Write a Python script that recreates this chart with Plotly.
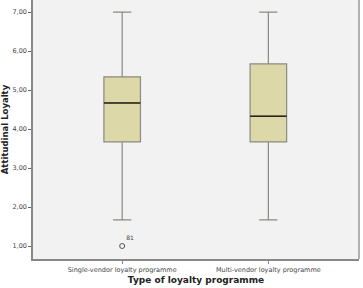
import plotly.graph_objects as go

categories = ["Single-vendor loyalty programme", "Multi-vendor loyalty programme"]
q1 = [3.67, 3.67]
median = [4.67, 4.33]
q3 = [5.34, 5.67]
lower = [1.67, 1.67]
upper = [7.00, 7.00]
outlier_x = [0]
outlier_y = [1.00]
outlier_label = ["81"]
ytick_vals = [1, 2, 3, 4, 5, 6, 7]
ytick_text = ["1,00", "2,00", "3,00", "4,00", "5,00", "6,00", "7,00"]

pos = list(range(len(categories)))
bw = 0.25

fig = go.Figure()
fig.add_trace(go.Box(
    x=pos, q1=q1, median=median, q3=q3, lowerfence=lower, upperfence=upper,
    width=bw, whiskerwidth=0.5, fillcolor="#dcd8a7",
    line=dict(color="#8a8a80", width=1.2), boxpoints=False, showlegend=False,
    hoverinfo="skip",
))
for i, m in zip(pos, median):
    fig.add_trace(go.Scatter(x=[i - bw / 2, i + bw / 2], y=[m, m], mode="lines",
                             line=dict(color="#2a2418", width=1.6), showlegend=False,
                             hoverinfo="skip"))
fig.add_trace(go.Scatter(x=outlier_x, y=outlier_y, mode="markers+text",
                         marker=dict(symbol="circle-open", size=5, color="#555555", line=dict(width=1)),
                         text=outlier_label, textposition="top right",
                         textfont=dict(size=6, color="#444444", family="DejaVu Sans"),
                         showlegend=False, hoverinfo="skip"))

fig.update_layout(
    width=363, height=288,
    margin=dict(l=33, r=4, t=0, b=29),
    paper_bgcolor="white", plot_bgcolor="#f2f2f2",
    font=dict(family="DejaVu Sans", color="#333333"),
)
fig.update_xaxes(
    range=[-0.61, 1.62], tickvals=pos, ticktext=categories,
    tickfont=dict(size=6.5, color="#444444"), ticks="outside", ticklen=3,
    tickcolor="#888888", showgrid=False, zeroline=False,
    showline=True, linecolor="#888888", linewidth=1.5, mirror=False,
    title=dict(text="<b>Type of loyalty programme</b>", font=dict(size=9, color="#222222"), standoff=4),
    automargin=False,
)
fig.update_yaxes(
    range=[0.667, 7.31], tickvals=ytick_vals, ticktext=ytick_text,
    tickfont=dict(size=6.5, color="#444444"), ticks="outside", ticklen=3,
    tickcolor="#666666", showgrid=False, zeroline=False,
    showline=True, linecolor="#888888", linewidth=1.5,
    title=dict(text="<b>Attitudinal Loyalty</b>", font=dict(size=8.5, color="#222222"), standoff=3),
    automargin=False,
)
# right border
fig.add_shape(type="line", xref="paper", yref="paper", x0=1, x1=1, y0=0, y1=1,
              line=dict(color="#999999", width=1.5))
fig.write_html("out.html")
